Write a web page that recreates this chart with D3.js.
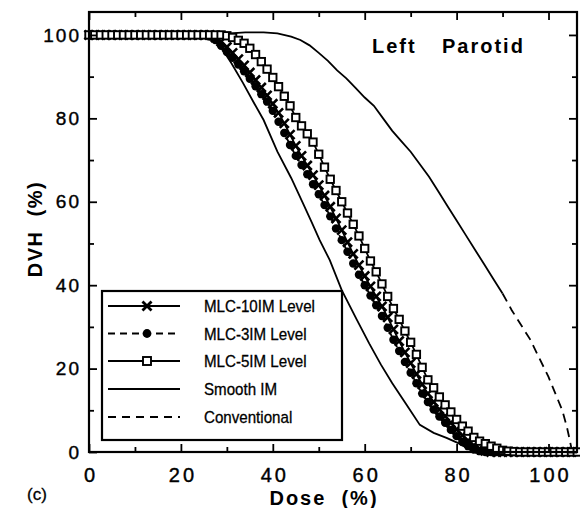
<!DOCTYPE html>
<html><head><meta charset="utf-8">
<script src="https://cdn.jsdelivr.net/npm/d3@7"></script>
<style>body{margin:0;background:#fff} svg{display:block;background:#fff}</style>
</head><body><svg id="c" width="580" height="508"></svg>
<script>
// ---- data ----
const dose = [0,1.25,2.5,3.75,5,6.25,7.5,8.75,10,11.25,12.5,13.75,15,16.25,17.5,18.75,20,21.25,22.5,23.75,
  25,26.25,27.5,28.75,30,31.25,32.5,33.75,35,36.25,37.5,38.75,40,41.25,42.5,43.75,45,46.25,47.5,48.75,
  50,51.25,52.5,53.75,55,56.25,57.5,58.75,60,61.25,62.5,63.75,65,66.25,67.5,68.75,70,71.25,72.5,73.75,
  75,76.25,77.5,78.75,80,81.25,82.5,83.75,85,86.25,87.5,88.75,90,91.25,92.5,93.75,95,96.25,97.5,98.75,
  100,101.25,102.5,103.75,105,106.25];
const mlc10 = [100,100,100,100,100,100,100,100,100,100,100,100,100,100,100,100,100,100,100,100,100,100,
  99.4,98.4,97.1,95.7,94.2,92.7,91,89.2,87.4,85.5,83.5,81.3,78.8,76.1,73.4,71,68.7,66.4,64,61.5,58.8,56,
  53.2,50.3,47.5,44.8,42.2,39.7,37.3,34.9,32.3,29.4,26.6,23.9,21.3,18.7,16.2,14,12,10.2,8.6,7,5.4,4,2.7,
  1.6,0.8,0.3,0,0,0,0,0,0,0,0,0,0,0,0,0,0,0,0];
const mlc3 = [100,100,100,100,100,100,100,100,100,100,100,100,100,100,100,100,100,100,100,100,100,
  99.6,98.8,97.4,95.9,94.5,92.9,91.3,89.5,87.7,85.8,84,81.8,79.2,76.5,73.6,71,68.8,66.6,64.2,61.8,59.2,
  56.5,53.6,50.8,48,45.2,42.5,40,37.5,35.2,32.6,29.8,26.9,24.2,21.6,19,16.5,14,12,10.2,8.5,7,5.3,3.8,2.4,
  1.4,0.6,0.2,0,0,0,0,0,0,0,0,0,0,0,0,0,0,0,0,0];
const mlc5 = [100,100,100,100,100,100,100,100,100,100,100,100,100,100,100,100,100,100,100,100,100,100,100,100,
  99.8,99.4,98.7,98,96.8,95.3,93.6,91.8,89.8,87.6,85.3,83,80.2,78.2,76.3,74.3,71.4,68.3,65.4,62.7,60,57.3,
  54.6,51.8,48.8,45.8,43.2,40.3,37.3,34.4,31.8,29,26.3,23.4,20.3,17.3,15.4,13.2,11.3,9.6,7.8,6.2,5,3.5,
  2.6,2,1.4,0.9,0.4,0.2,0.1,0,0,0,0,0,0,0,0,0,0,0];
const smoothDose = [0,22,24,26,27.5,29,31,33.5,36,38,41,44,46.5,48.5,50.2,52.4,55,58.3,61,63.5,66,69,72,75,77.8,80.6,82.5,84,106.2];
const smoothVal  = [100,100,99.7,99.2,98.3,96.6,93.2,88.5,83.5,79.6,72,65.7,59.8,55,50.8,46,38.8,31.7,26,21,16.5,11.5,6.5,4.6,3.4,2,0.8,0,0];
const convDose = [0,30,34,38,41,44,46,48,50,52,54,56,58,60,62,64,66,68,70,72,74,76,78,80,82,84,86,88,90,92,94,96,98,100,101.5,103,104,104.6,105,105.3,106.2];
const convVal  = [100,100.3,100.6,100.6,100.4,99.6,98.8,97.5,95.7,93.8,91.5,89.6,87.3,85,83,80,77,74.5,72,69,66,62.5,59,55.5,52,48.5,45,41.5,38,34,30.5,27,22.5,18,14,10,6,3,0.8,0,0];
const xTicks = [0,20,40,60,80,100];
const xMinor = [10,30,50,70,90];
const yTicks = [0,20,40,60,80,100];
const yMinor = [10,30,50,70,90];
const legendLabels = ["MLC-10IM Level","MLC-3IM Level","MLC-5IM Level","Smooth IM","Conventional"];
const title = ["Left","Parotid"];
const xTitle = "Dose  (%)";
const yTitle = "DVH  (%)";
const panel = "(c)";

// ---- drawing ----
const FONT = "'Liberation Sans', Arial, Helvetica, sans-serif";
const svg = d3.select("#c");
const L = 89, R = 577, T = 12, B = 452;
const x = d3.scaleLinear().domain([0, 106.2]).range([L, R]);
const y = d3.scaleLinear().domain([0, 105.5]).range([B, T]);

const line = d3.line().x(d => x(d[0])).y(d => y(d[1]));

const plot = svg.append("g");
// smooth IM
plot.append("path").datum(smoothDose.map((d,i)=>[d,smoothVal[i]]))
  .attr("d", line).attr("fill","none").attr("stroke","#000").attr("stroke-width",1.8);
// conventional (solid where points are dense, dashed on the steep tail)
const conv = convDose.map((d,i)=>[d,convVal[i]]);
plot.append("path").datum(conv.filter(p=>p[0]<=90))
  .attr("d", line).attr("fill","none").attr("stroke","#000").attr("stroke-width",1.8);
plot.append("path").datum(conv.filter(p=>p[0]>=90))
  .attr("d", line).attr("fill","none").attr("stroke","#000").attr("stroke-width",1.8)
  .attr("stroke-dasharray","9,6");

function series(vals, dash) {
  const pts = dose.map((d,i)=>[d, vals[i]]);
  plot.append("path").datum(pts).attr("d", line).attr("fill","none")
    .attr("stroke","#000").attr("stroke-width",1.8).attr("stroke-dasharray", dash || null);
  return pts;
}
const p10 = series(mlc10);
plot.append("g").selectAll("path").data(p10).join("path")
  .attr("transform", d=>`translate(${x(d[0])},${y(d[1])})`)
  .attr("d", d3.symbol(d3.symbolX, 55)()).attr("fill","none").attr("stroke","#000").attr("stroke-width",2.6);
const p3 = series(mlc3, "6,4");
plot.append("g").selectAll("circle").data(p3).join("circle")
  .attr("cx", d=>x(d[0])).attr("cy", d=>y(d[1])).attr("r",4.2).attr("fill","#000");
const p5 = series(mlc5);
plot.append("g").selectAll("rect").data(p5).join("rect")
  .attr("x", d=>x(d[0])-3.7).attr("y", d=>y(d[1])-3.7).attr("width",7.4).attr("height",7.4)
  .attr("fill","#fff").attr("stroke","#000").attr("stroke-width",1.9);

// frame
svg.append("rect").attr("x",L).attr("y",T).attr("width",R-L).attr("height",B-T)
  .attr("fill","none").attr("stroke","#000").attr("stroke-width",2.2);

function styleAxis(g){ g.select(".domain").remove(); g.selectAll(".tick line").attr("stroke","#000").attr("stroke-width",1.8); }
// bottom
const gb = svg.append("g").attr("transform",`translate(0,${B})`)
  .call(d3.axisBottom(x).tickValues(xTicks).tickSize(-8).tickPadding(16).tickFormat(d3.format("d")));
styleAxis(gb);
gb.selectAll(".tick text").attr("font-family",FONT).attr("font-size",20).attr("fill","#000")
  .attr("stroke","#000").attr("stroke-width",0.4)
  .style("letter-spacing","3px").attr("dx","1.5px");
svg.append("g").attr("transform",`translate(0,${B})`)
  .call(d3.axisBottom(x).tickValues(xMinor).tickSize(-5).tickFormat("")).call(styleAxis);
// top
svg.append("g").attr("transform",`translate(0,${T})`)
  .call(d3.axisTop(x).tickValues(xTicks).tickSize(-8).tickFormat("")).call(styleAxis);
svg.append("g").attr("transform",`translate(0,${T})`)
  .call(d3.axisTop(x).tickValues(xMinor).tickSize(-5).tickFormat("")).call(styleAxis);
// left
const gl = svg.append("g").attr("transform",`translate(${L},0)`)
  .call(d3.axisLeft(y).tickValues(yTicks).tickSize(-8).tickPadding(8).tickFormat(d3.format("d")));
styleAxis(gl);
gl.selectAll(".tick text").attr("font-family",FONT).attr("font-size",19).attr("fill","#000")
  .attr("stroke","#000").attr("stroke-width",0.4)
  .style("letter-spacing","2px");
svg.append("g").attr("transform",`translate(${L},0)`)
  .call(d3.axisLeft(y).tickValues(yMinor).tickSize(-5).tickFormat("")).call(styleAxis);
// right
svg.append("g").attr("transform",`translate(${R},0)`)
  .call(d3.axisRight(y).tickValues(yTicks).tickSize(-8).tickFormat("")).call(styleAxis);
svg.append("g").attr("transform",`translate(${R},0)`)
  .call(d3.axisRight(y).tickValues(yMinor).tickSize(-5).tickFormat("")).call(styleAxis);

// titles
const t = svg.append("text").attr("y",53).attr("font-family",FONT).attr("font-weight","bold")
  .attr("font-size",20).style("letter-spacing","2px").attr("fill","#000");
t.append("tspan").attr("x",372).text(title[0]);
t.append("tspan").attr("x",442).text(title[1]);
svg.append("text").attr("x",324).attr("y",505).attr("text-anchor","middle")
  .attr("font-family",FONT).attr("font-weight","bold").attr("font-size",20)
  .style("letter-spacing","2px").style("white-space","pre").text(xTitle);
svg.append("text").attr("transform","translate(42,229) rotate(-90)").attr("text-anchor","middle")
  .attr("font-family",FONT).attr("font-weight","bold").attr("font-size",20)
  .style("letter-spacing","1.5px").style("white-space","pre").text(yTitle);
svg.append("text").attr("x",27).attr("y",500).attr("font-family",FONT).attr("font-size",17)
  .attr("stroke","#000").attr("stroke-width",0.3).text(panel);

// legend
const lg = svg.append("g");
lg.append("rect").attr("x",102).attr("y",291).attr("width",240).attr("height",149)
  .attr("fill","#fff").attr("stroke","#000").attr("stroke-width",2.2);
const rowY = [306, 333.5, 361, 389, 417];
const dashes = [null, "7,5", null, null, "8,6"];
legendLabels.forEach((lab,i)=>{
  const yy = rowY[i];
  lg.append("line").attr("x1",108).attr("x2",180).attr("y1",yy).attr("y2",yy)
    .attr("stroke","#000").attr("stroke-width",1.9).attr("stroke-dasharray",dashes[i]);
  if (i===0) lg.append("path").attr("transform",`translate(147,${yy})`)
    .attr("d", d3.symbol(d3.symbolX, 55)()).attr("fill","none").attr("stroke","#000").attr("stroke-width",2.8);
  if (i===1) lg.append("circle").attr("cx",147).attr("cy",yy).attr("r",4.4).attr("fill","#000");
  if (i===2) lg.append("rect").attr("x",143).attr("y",yy-4).attr("width",8).attr("height",8)
    .attr("fill","#fff").attr("stroke","#000").attr("stroke-width",1.9);
  lg.append("text").attr("transform",`translate(204,${yy}) scale(0.89,1)`).attr("dy","0.36em")
    .attr("font-family",FONT).attr("font-size",17).attr("fill","#000")
    .attr("stroke","#000").attr("stroke-width",0.3).text(lab);
});
</script></body></html>
